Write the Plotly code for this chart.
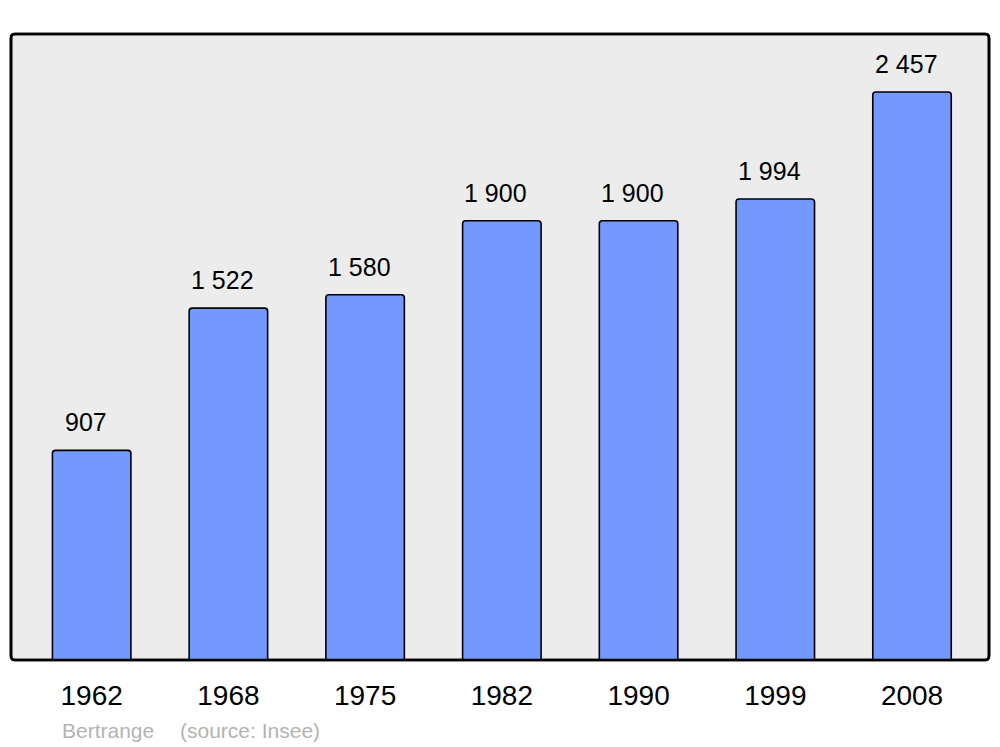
import plotly.graph_objects as go

years = ["1962", "1968", "1975", "1982", "1990", "1999", "2008"]
population = [907, 1522, 1580, 1900, 1900, 1994, 2457]
value_labels = ["907", "1 522", "1 580", "1 900", "1 900", "1 994", "2 457"]
place = "Bertrange"
source = "(source: Insee)"

W, H = 1000, 747
L, R, T, B = 11, 11, 34, 87

fig = go.Figure()
fig.add_trace(go.Bar(
    x=list(range(len(years))), y=population,
    width=0.574,
    marker=dict(color="#7399ff", line=dict(color="#000000", width=1.6), cornerradius=3),
    hoverinfo="skip",
))

for i, (v, lab) in enumerate(zip(population, value_labels)):
    fig.add_annotation(x=i, y=v, text=lab, showarrow=False, xref="x", yref="y",
                       yanchor="bottom", yshift=12, xshift=-6,
                       font=dict(family="Liberation Sans, Arial", size=25, color="#000000"))

# rounded plot frame
r = 4
pw, ph = W - L - R, H - T - B
rx, ry = r / pw, r / ph
path = (f"M {rx},0 L {1-rx},0 Q 1,0 1,{ry} L 1,{1-ry} Q 1,1 {1-rx},1 "
        f"L {rx},1 Q 0,1 0,{1-ry} L 0,{ry} Q 0,0 {rx},0 Z")
fig.add_shape(type="path", path=path, xref="paper", yref="paper",
              fillcolor="#ececec", line=dict(color="#000000", width=2.6), layer="below")
fig.add_shape(type="path", path=path, xref="paper", yref="paper",
              fillcolor="rgba(0,0,0,0)", line=dict(color="#000000", width=2.6), layer="above")

fig.add_annotation(x=(60 - L) / pw, y=-(730 - (H - B)) / ph, xref="paper", yref="paper",
                   text=place, showarrow=False, xanchor="left", yanchor="middle",
                   font=dict(family="Liberation Sans, Arial", size=21, color="#b3b3b3"))
fig.add_annotation(x=(178 - L) / pw, y=-(730 - (H - B)) / ph, xref="paper", yref="paper",
                   text=source, showarrow=False, xanchor="left", yanchor="middle",
                   font=dict(family="Liberation Sans, Arial", size=21, color="#b3b3b3"))

fig.update_layout(
    width=W, height=H,
    margin=dict(l=L, r=R, t=T, b=B),
    paper_bgcolor="#ffffff", plot_bgcolor="rgba(0,0,0,0)",
    showlegend=False,
    xaxis=dict(range=[-0.590, 6.563], tickvals=list(range(len(years))), ticktext=years,
               showgrid=False, zeroline=False, showline=False, ticks="",
               ticklabelstandoff=16,
               tickfont=dict(family="Liberation Sans, Arial", size=28, color="#000000"),
               fixedrange=True),
    yaxis=dict(range=[0, 2708], showgrid=False, zeroline=False, showline=False,
               showticklabels=False, ticks="", fixedrange=True),
)

fig.write_html("out.html", config={"displayModeBar": False, "staticPlot": True},
               post_script="document.body.style.margin='0';document.body.style.overflow='hidden';")
